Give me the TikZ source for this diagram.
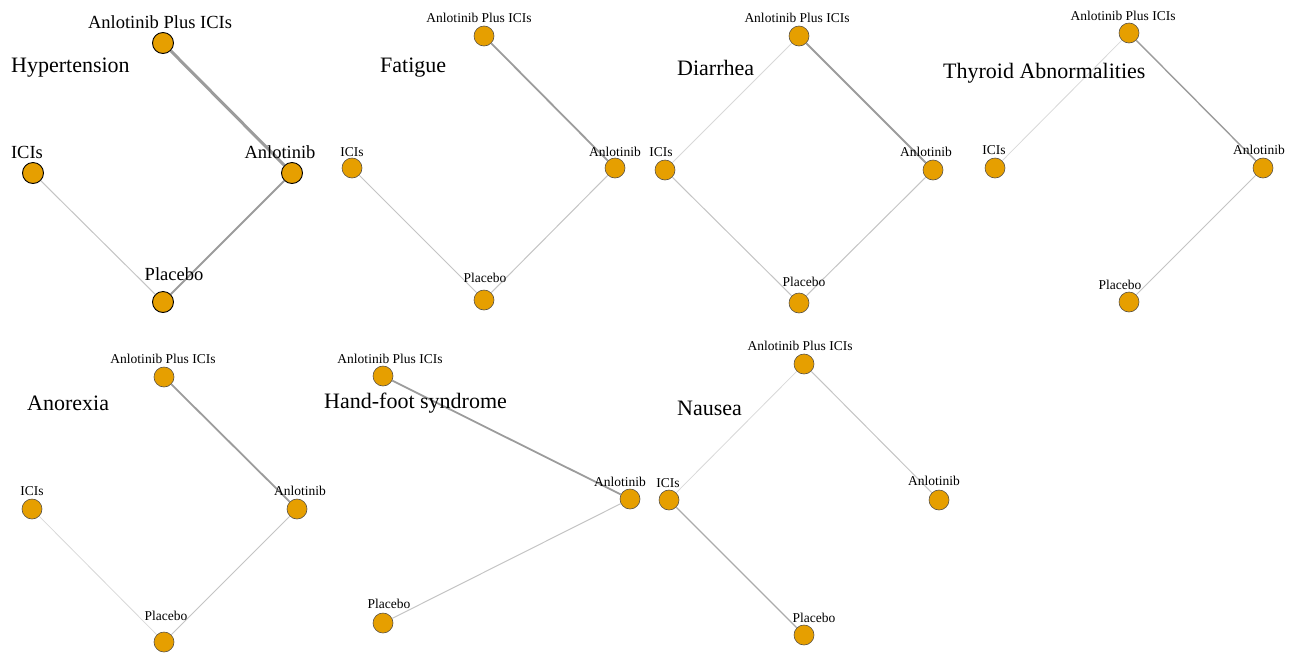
\documentclass[tikz,border=0pt]{standalone}
\usepackage{fontspec}
\setmainfont{Liberation Serif}
\usetikzlibrary{positioning}
\definecolor{trtorange}{HTML}{E69F00}
\definecolor{rimgray}{HTML}{5A5245}
\definecolor{edgedark}{HTML}{9C9C9C}
\definecolor{edgemid}{HTML}{ABABAB}
\definecolor{edgelight}{HTML}{C4C4C4}
\definecolor{edgefaint}{HTML}{D8D8D8}

\begin{document}
\begin{tikzpicture}[
  x=1pt, y=-1pt,
  trt/.style={draw=rimgray, circle, fill=trtorange, line width=0.6pt,
              minimum size=20pt, inner sep=0pt},
  trtbig/.style={trt, draw=black, line width=0.9pt, minimum size=21pt},
  lab/.style={inner sep=0pt, font=\fontsize{13.5}{14}\selectfont},
  labbig/.style={inner sep=0pt, font=\fontsize{18.5}{20}\selectfont},
  ttl/.style={anchor=west, inner sep=0pt, font=\fontsize{22}{24}\selectfont},
  wide/.style={edgedark, line width=3pt},
  mid/.style={edgedark, line width=1.8pt},
  thin/.style={edgelight, line width=1pt},
  faint/.style={edgefaint, line width=0.8pt},
]
  \useasboundingbox (0,0) rectangle (1298,654);
  % Hypertension
  \node[trtbig] (hA) at (163,43) {};
  \node[trtbig] (hI) at (33,173) {};
  \node[trtbig] (hN) at (292,173) {};
  \node[trtbig] (hP) at (163,302) {};
  \draw[wide] (hA) -- (hN);
  \draw[thin] (hI) -- (hP);
  \draw[mid] (hN) -- (hP);
  \node[labbig, above=3pt of hA, xshift=-3pt] (hAl) {Anlotinib Plus ICIs};
  \node[labbig, above=3pt of hI, xshift=-6pt] (hIl) {ICIs};
  \node[labbig, above=3pt of hN, xshift=-12pt] (hNl) {Anlotinib};
  \node[labbig, above=10pt of hP, xshift=11pt] (hPl) {Placebo};
  \node[ttl] (hT) at (11,68) {Hypertension};
  % Fatigue
  \node[trt] (fA) at (484,36) {};
  \node[trt] (fI) at (352,168) {};
  \node[trt] (fN) at (615,168) {};
  \node[trt] (fP) at (484,300) {};
  \draw[mid] (fA) -- (fN);
  \draw[thin] (fI) -- (fP);
  \draw[thin] (fN) -- (fP);
  \node[lab, above=3pt of fA, xshift=-5pt] (fAl) {Anlotinib Plus ICIs};
  \node[lab, above=1pt of fI] (fIl) {ICIs};
  \node[lab, above=1pt of fN] (fNl) {Anlotinib};
  \node[lab, above=7pt of fP, xshift=1pt] (fPl) {Placebo};
  \node[ttl] (fT) at (380,68) {Fatigue};
  % Diarrhea
  \node[trt] (dA) at (799,36) {};
  \node[trt] (dI) at (665,170) {};
  \node[trt] (dN) at (933,170) {};
  \node[trt] (dP) at (799,303) {};
  \draw[faint] (dA) -- (dI);
  \draw[mid] (dA) -- (dN);
  \draw[thin] (dI) -- (dP);
  \draw[thin] (dN) -- (dP);
  \node[lab, above=3pt of dA, xshift=-2pt] (dAl) {Anlotinib Plus ICIs};
  \node[lab, above=3pt of dI, xshift=-4pt] (dIl) {ICIs};
  \node[lab, above=3pt of dN, xshift=-7pt] (dNl) {Anlotinib};
  \node[lab, above=6pt of dP, xshift=5pt] (dPl) {Placebo};
  \node[ttl] (dT) at (677,68) {Diarrhea};
  % Thyroid Abnormalities
  \node[trt] (tA) at (1129,33) {};
  \node[trt] (tI) at (995,168) {};
  \node[trt] (tN) at (1263,168) {};
  \node[trt] (tP) at (1129,302) {};
  \draw[faint] (tA) -- (tI);
  \draw[mid, line width=1.4pt] (tA) -- (tN);
  \draw[thin] (tN) -- (tP);
  \node[lab, above=2pt of tA, xshift=-6pt] (tAl) {Anlotinib Plus ICIs};
  \node[lab, above=3pt of tI, xshift=-1pt] (tIl) {ICIs};
  \node[lab, above=3pt of tN, xshift=-4pt] (tNl) {Anlotinib};
  \node[lab, above=2pt of tP, xshift=-9pt] (tPl) {Placebo};
  \node[ttl] (tT) at (943,73) {Thyroid Abnormalities};
  % Anorexia
  \node[trt] (aA) at (164,377) {};
  \node[trt] (aI) at (32,509) {};
  \node[trt] (aN) at (297,509) {};
  \node[trt] (aP) at (164,642) {};
  \draw[mid] (aA) -- (aN);
  \draw[faint] (aI) -- (aP);
  \draw[thin] (aN) -- (aP);
  \node[lab, above=3pt of aA, xshift=-1pt] (aAl) {Anlotinib Plus ICIs};
  \node[lab, above=3pt of aI] (aIl) {ICIs};
  \node[lab, above=3pt of aN, xshift=3pt] (aNl) {Anlotinib};
  \node[lab, above=11pt of aP, xshift=2pt] (aPl) {Placebo};
  \node[ttl] (aT) at (27,403) {Anorexia};
  % Hand-foot syndrome
  \node[trt] (gA) at (383,376) {};
  \node[trt] (gN) at (630,499) {};
  \node[trt] (gP) at (383,623) {};
  \draw[mid] (gA) -- (gN);
  \draw[thin] (gN) -- (gP);
  \node[lab, above=2pt of gA, xshift=7pt] (gAl) {Anlotinib Plus ICIs};
  \node[lab, above=2pt of gN, xshift=-10pt] (gNl) {Anlotinib};
  \node[lab, above=4pt of gP, xshift=6pt] (gPl) {Placebo};
  \node[ttl] (gT) at (324,403) {Hand-foot syndrome};
  % Nausea
  \node[trt] (nA) at (804,364) {};
  \node[trt] (nI) at (669,500) {};
  \node[trt] (nN) at (939,500) {};
  \node[trt] (nP) at (804,635) {};
  \draw[faint] (nA) -- (nI);
  \draw[thin] (nA) -- (nN);
  \draw[thin, edgemid, line width=1.2pt] (nI) -- (nP);
  \node[lab, above=3pt of nA, xshift=-4pt] (nAl) {Anlotinib Plus ICIs};
  \node[lab, above=2pt of nI, xshift=-1pt] (nIl) {ICIs};
  \node[lab, above=4pt of nN, xshift=-5pt] (nNl) {Anlotinib};
  \node[lab, above=2pt of nP, xshift=10pt] (nPl) {Placebo};
  \node[ttl] (nT) at (677,408) {Nausea};
\end{tikzpicture}
\end{document}
